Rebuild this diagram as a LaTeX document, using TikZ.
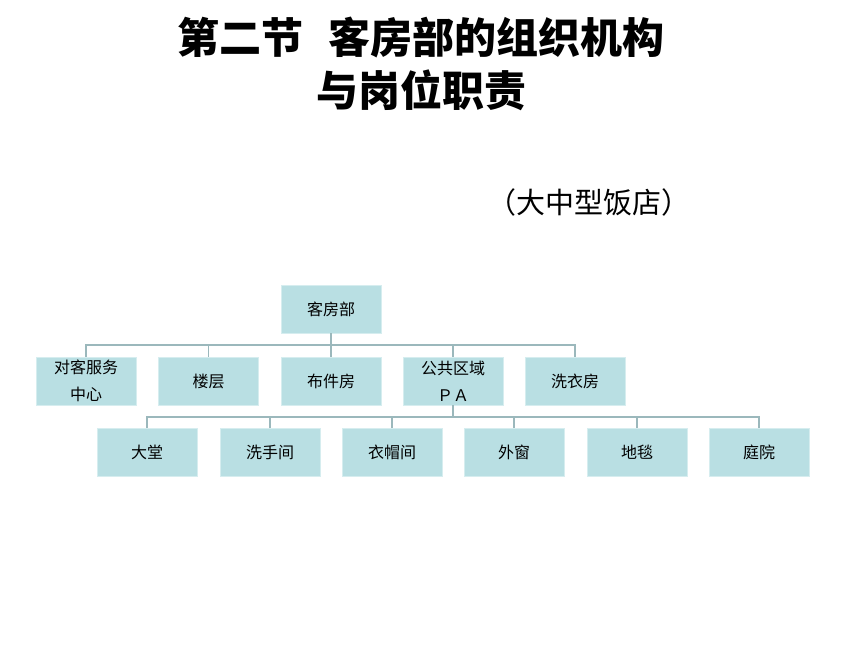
\documentclass[tikz,border=0pt]{standalone}
\usepackage{fontspec}
\newfontfamily\cjk{Noto Sans CJK SC}
\definecolor{boxfill}{HTML}{B9DFE3}
\definecolor{boxline}{HTML}{D6EDEF}
\definecolor{conn}{HTML}{9BB8BC}
\tikzset{
  orgbox/.style={draw=boxline, line width=0.8pt, fill=boxfill, minimum width=100pt, minimum height=48pt, inner sep=0pt, align=center, font=\cjk\fontsize{16}{27}\selectfont},
  titletext/.style={font=\cjk\bfseries\fontsize{42}{48}\selectfont, inner sep=0pt},
  subtext/.style={font=\cjk\fontsize{29}{32}\selectfont, inner sep=0pt},
  link/.style={draw=conn, line width=1.6pt}
}
\begin{document}
\begin{tikzpicture}[x=1pt,y=-1pt]
\useasboundingbox (0,0) rectangle (860,645);
\node[titletext] (t1) at (421,38) {第二节\hspace{0.6em}客房部的组织机构};
\node[titletext] (t2) at (421,90) {与岗位职责};
\node[subtext] (sub) at (589,202) {（大中型饭店）};

\node[orgbox] (top) at (331,309) {客房部};
\node[orgbox] (c1) at (86,381) {对客服务\\中心};
\node[orgbox] (c2) at (208.5,381) {楼层};
\node[orgbox] (c3) at (331,381) {布件房};
\node[orgbox] (c4) at (453,381) {公共区域\\ＰＡ};
\node[orgbox] (c5) at (575,381) {洗衣房};

\node[orgbox] (d1) at (147,452.5) {大堂};
\node[orgbox] (d2) at (270,452.5) {洗手间};
\node[orgbox] (d3) at (392,452.5) {衣帽间};
\node[orgbox] (d4) at (514,452.5) {外窗};
\node[orgbox] (d5) at (637,452.5) {地毯};
\node[orgbox] (d6) at (759,452.5) {庭院};

\coordinate (bus1) at (331,345);
\coordinate (bus2) at (453,417);

\draw[link] (top.south) -- (top.south |- bus1);
\draw[link] (c1.north) -- (c1.north |- bus1) -- (c5.north |- bus1) -- (c5.north);
\foreach \n in {c2,c3,c4} \draw[link] (\n.north) -- (\n.north |- bus1);

\draw[link] (c4.south) -- (c4.south |- bus2);
\draw[link] (d1.north) -- (d1.north |- bus2) -- (d6.north |- bus2) -- (d6.north);
\foreach \n in {d2,d3,d4,d5} \draw[link] (\n.north) -- (\n.north |- bus2);
\end{tikzpicture}
\end{document}
